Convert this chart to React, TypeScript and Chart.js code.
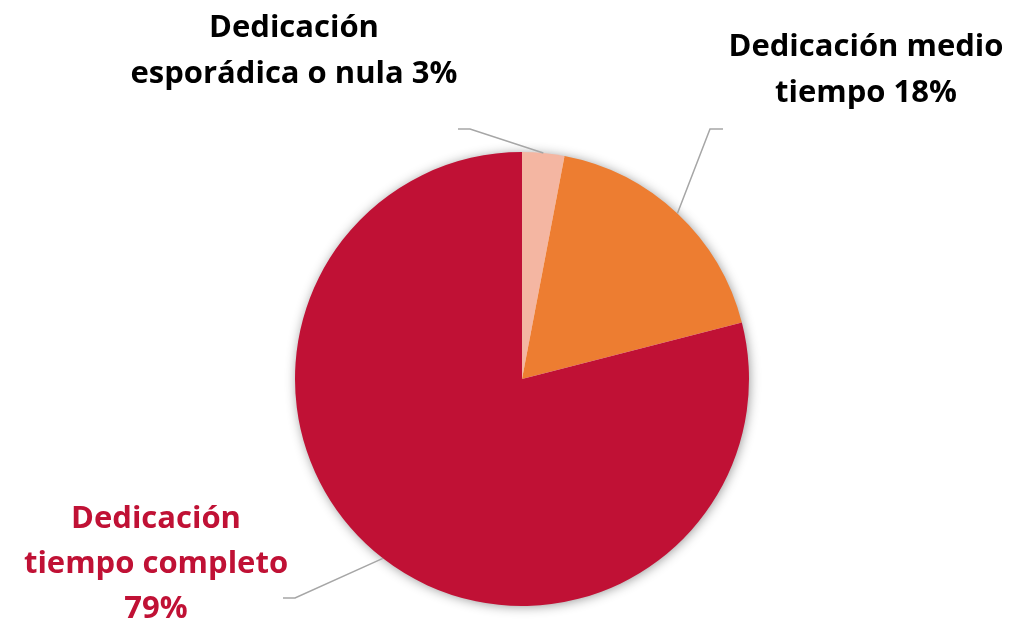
import React, { useEffect, useRef } from "react";
import { Chart, registerables } from "chart.js";

Chart.register(...registerables);

const categories = [
  "Dedicación esporádica o nula",
  "Dedicación medio tiempo",
  "Dedicación tiempo completo",
];
const values = [3, 18, 79];
const sliceColors = ["#F4B6A2", "#ED7D31", "#C01135"];
const labelLines = [
  ["Dedicación", "esporádica o nula {v}"],
  ["Dedicación medio", "tiempo {v}"],
  ["Dedicación", "tiempo completo", "{v}"],
];
const labelColors = ["#000000", "#000000", "#C01135"];

// layout of the callouts (positions only)
const calloutLayout = [
  { elbowX: 470, elbowY: 129, endX: 458, textX: 294, baselines: [37, 83] },
  { elbowX: 710, elbowY: 129, endX: 723, textX: 866, baselines: [56, 102] },
  { elbowX: 295, elbowY: 598, endX: 283, textX: 156, baselines: [528, 573, 618] },
];

const FONT = "bold 31px 'Open Sans', Lato, sans-serif";

const calloutPlugin = {
  id: "callouts",
  beforeDatasetsDraw(chart: any) {
    const meta = chart.getDatasetMeta(0);
    const arc = meta.data[0];
    if (!arc) return;
    const { x, y, outerRadius } = arc.getProps(["x", "y", "outerRadius"], true);
    const ctx = chart.ctx;
    ctx.save();
    ctx.beginPath();
    ctx.arc(x, y, outerRadius - 1, 0, Math.PI * 2);
    ctx.fillStyle = "#ffffff";
    ctx.shadowColor = "rgba(0,0,0,0.45)";
    ctx.shadowBlur = 12;
    ctx.shadowOffsetX = 1;
    ctx.shadowOffsetY = 1;
    ctx.fill();
    ctx.restore();
  },
  afterDatasetsDraw(chart: any) {
    const ctx = chart.ctx;
    const meta = chart.getDatasetMeta(0);
    meta.data.forEach((arc: any, i: number) => {
      const { x, y, startAngle, endAngle, outerRadius } = arc.getProps(
        ["x", "y", "startAngle", "endAngle", "outerRadius"],
        true
      );
      const mid = (startAngle + endAngle) / 2;
      const px = x + Math.cos(mid) * outerRadius;
      const py = y + Math.sin(mid) * outerRadius;
      const L = calloutLayout[i];
      ctx.save();
      ctx.strokeStyle = "#A6A6A6";
      ctx.lineWidth = 1.5;
      ctx.beginPath();
      ctx.moveTo(px, py);
      ctx.lineTo(L.elbowX, L.elbowY);
      ctx.lineTo(L.endX, L.elbowY);
      ctx.stroke();
      ctx.font = FONT;
      ctx.fillStyle = labelColors[i];
      ctx.textAlign = "center";
      ctx.textBaseline = "alphabetic";
      labelLines[i].forEach((line, j) => {
        ctx.fillText(line.replace("{v}", values[i] + "%"), L.textX, L.baselines[j]);
      });
      ctx.restore();
    });
  },
};

export default function App() {
  const canvasRef = useRef<HTMLCanvasElement | null>(null);
  useEffect(() => {
    if (!canvasRef.current) return;
    const chart = new Chart(canvasRef.current, {
      type: "pie",
      data: {
        labels: categories,
        datasets: [
          {
            data: values,
            backgroundColor: sliceColors,
            borderWidth: 0,
            hoverOffset: 0,
          },
        ],
      },
      options: {
        animation: false,
        responsive: true,
        maintainAspectRatio: false,
        layout: { padding: { top: 152, bottom: 19, left: 295, right: 283 } },
        plugins: {
          legend: { display: false },
          tooltip: { enabled: false },
        },
      },
      plugins: [calloutPlugin],
    });
    return () => chart.destroy();
  }, []);
  return (
    <div
      style={{
        position: "absolute",
        left: 0,
        top: 0,
        width: 1032,
        height: 625,
        background: "#ffffff",
      }}
    >
      <canvas ref={canvasRef} />
    </div>
  );
}
